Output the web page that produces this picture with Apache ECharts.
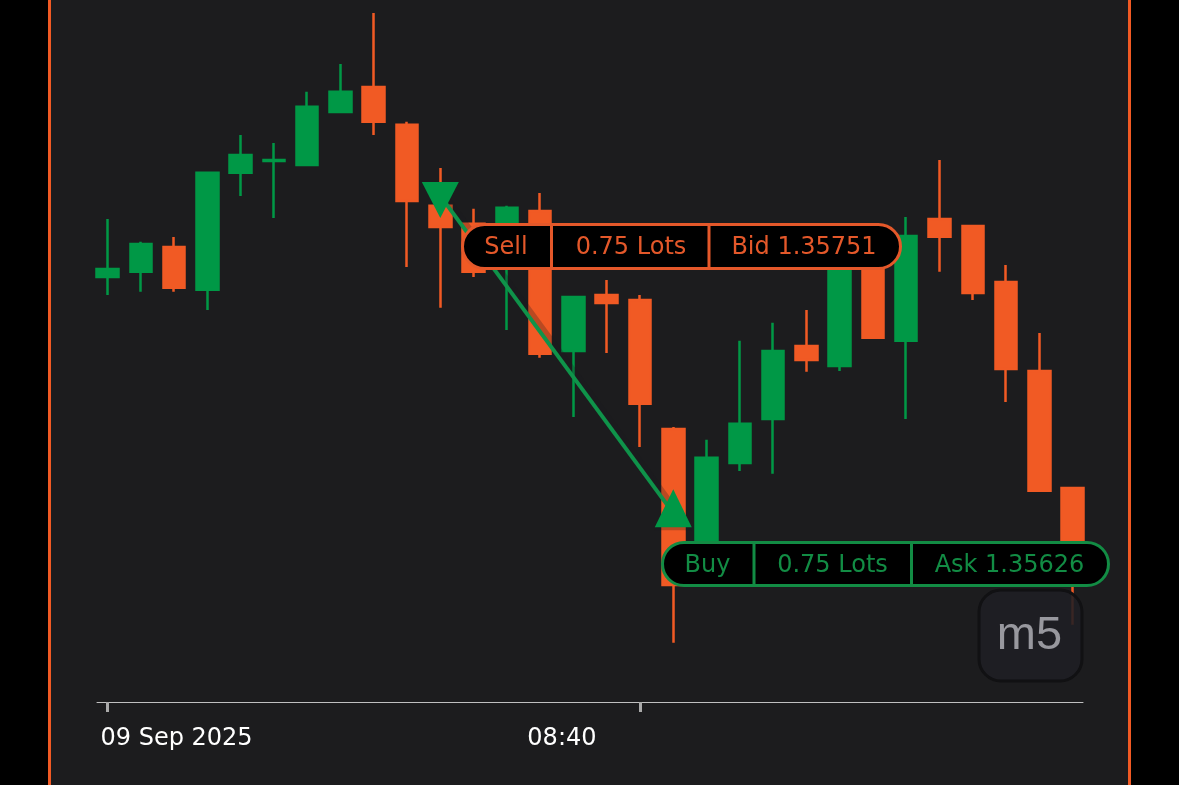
<!DOCTYPE html>
<html>
<head>
<meta charset="utf-8">
<title>m5 candles</title>
<script src="https://cdn.jsdelivr.net/npm/echarts@6/dist/echarts.min.js"></script>
<style>
    html, body { margin: 0; padding: 0; background: #000; }
    #panel {
        position: absolute; left: 48px; top: 0; width: 1077px; height: 785px;
        background: #1c1c1e; border-left: 3px solid #f15a24; border-right: 3px solid #f15a24;
    }
    #chart { position: absolute; left: 0; top: 0; width: 1179px; height: 785px; }
</style>
</head>
<body>
<div id="panel"></div>
<div id="chart"></div>
<script>
// 5 minute candles, 09 Sep 2025
const times = ['07:20','07:25','07:30','07:35','07:40','07:45','07:50','07:55','08:00','08:05',
    '08:10','08:15','08:20','08:25','08:30','08:35','08:40','08:45','08:50','08:55',
    '09:00','09:05','09:10','09:15','09:20','09:25','09:30','09:35','09:40','09:45'];
const opens = [1.357191,1.357211,1.357309,1.357140,1.357601,1.357648,1.357632,1.357841,1.357939,1.357790,
    1.357471,1.357400,1.357254,1.357451,1.356899,1.357120,1.357100,1.356592,1.356080,1.356458,
    1.356631,1.356919,1.356840,1.357262,1.356939,1.357419,1.357392,1.357171,1.356820,1.356359];
const closes = [1.357222,1.357321,1.357148,1.357601,1.357671,1.357652,1.357861,1.357920,1.357802,1.357490,
    1.357388,1.357211,1.357463,1.356888,1.357112,1.357088,1.356691,1.355977,1.356478,1.356612,
    1.356899,1.356864,1.357262,1.356951,1.357352,1.357349,1.357128,1.356828,1.356348,1.356021];
const lows = [1.357120,1.357132,1.357132,1.357061,1.357510,1.357423,1.357632,1.357841,1.357750,1.357230,
    1.357069,1.357191,1.356982,1.356872,1.356639,1.356891,1.356521,1.355749,1.356036,1.356426,
    1.356415,1.356817,1.356820,1.356951,1.356631,1.357211,1.357100,1.356698,1.356348,1.355820];
const highs = [1.357419,1.357329,1.357348,1.357601,1.357750,1.357719,1.357920,1.358030,1.358231,1.357802,
    1.357620,1.357459,1.357471,1.357522,1.357112,1.357179,1.357120,1.356600,1.356549,1.356939,
    1.357010,1.357061,1.357297,1.357297,1.357427,1.357652,1.357392,1.357238,1.356970,1.356359];

// the trade: sold on candle 10, bought back on candle 17
const sellIndex = 10, sellPrice = 1.35751;
const buyIndex = 17, buyPrice = 1.35626;

const tickIndexes = [0, 16];
const tickLabels = ['09 Sep 2025', '08:40'];
const tickLabelSlots = [2.075, 13.655]; // labels sit left of their ticks in the original

const sellTicket = ['Sell', '0.75 Lots', 'Bid 1.35751'];
const buyTicket = ['Buy', '0.75 Lots', 'Ask 1.35626'];
const timeframe = 'm5';

const GREEN = '#009846';
const ORANGE = '#f15a24';
const LINE_GREEN = '#0f934a';
const TICKET_GREEN = '#128c44';
const TICKET_ORANGE = '#e4582a';
const SHADE = 'rgba(28,28,30,0.26)'; // same as the panel, so it only shows over candles
const SHADE_LIFT = 0.00002;

// one pill with three cells, drawn above the candles
function ticket(left, right, top, bottom, dividers, centers, texts, color) {
    const els = [{
        type: 'rect', z: 100,
        shape: { x: left + 1.5, y: top + 1.5, width: right - left - 3, height: bottom - top - 3, r: 22 },
        style: { fill: '#000', stroke: color, lineWidth: 3 }
    }];
    dividers.forEach(x => els.push({
        type: 'line', z: 101,
        shape: { x1: x, y1: top + 1, x2: x, y2: bottom - 1 },
        style: { stroke: color, lineWidth: 3 }
    }));
    texts.forEach((t, i) => els.push({
        type: 'text', z: 102, x: centers[i], y: (top + bottom) / 2 + 1.5,
        style: {
            text: t, fill: color, align: 'center', verticalAlign: 'middle',
            font: '24px "DejaVu Sans"'
        }
    }));
    return els;
}

const chart = echarts.init(document.getElementById('chart'));

const option = {
    animation: false,
    backgroundColor: 'transparent',
    grid: { left: 97, top: 0, width: 986, height: 702 },
    xAxis: {
        type: 'value',
        min: -0.3155,
        max: 29.312,
        splitLine: { show: false },
        axisLine: { onZero: false, lineStyle: { color: '#c0c0c0', width: 1 } },
        axisTick: { customValues: tickIndexes, length: 10, lineStyle: { color: '#aaaaaa', width: 3 } },
        axisLabel: {
            customValues: tickLabelSlots,
            formatter: value => tickLabels[tickLabelSlots.indexOf(value)],
            color: '#ffffff',
            fontFamily: 'DejaVu Sans',
            fontSize: 24,
            margin: 25
        }
    },
    yAxis: {
        type: 'value',
        min: 1.355516,
        max: 1.358282,
        show: false
    },
    series: [
        {
            name: 'Price',
            type: 'candlestick',
            barWidth: 22,
            data: times.map((t, i) => [i, opens[i], closes[i], lows[i], highs[i]]),
            itemStyle: {
                color: GREEN,
                color0: ORANGE,
                borderColor: GREEN,
                borderColor0: ORANGE,
                borderWidth: 2.5
            }
        },
        {
            name: 'Trade shade',
            type: 'line',
            z: 3,
            symbol: 'none',
            data: [[sellIndex, sellPrice + SHADE_LIFT], [buyIndex, buyPrice + SHADE_LIFT]],
            lineStyle: { color: SHADE, width: 8 }
        },
        {
            name: 'Trade',
            type: 'line',
            z: 4,
            symbol: 'none',
            data: [[sellIndex, sellPrice], [buyIndex, buyPrice]],
            lineStyle: { color: LINE_GREEN, width: 4 }
        },
        {
            name: 'Sell',
            type: 'scatter',
            z: 5,
            symbol: 'triangle',
            symbolSize: [37, 36],
            symbolRotate: 180,
            symbolOffset: [0, 4],
            itemStyle: { color: GREEN, opacity: 1 },
            data: [[sellIndex, sellPrice]]
        },
        {
            name: 'Buy',
            type: 'scatter',
            z: 5,
            symbol: 'triangle',
            symbolSize: [37, 38],
            symbolOffset: [0, -5],
            itemStyle: { color: GREEN, opacity: 1, shadowColor: SHADE, shadowOffsetY: 3 },
            data: [[buyIndex, buyPrice]]
        }
    ],
    graphic: {
        elements: [
            ...ticket(461, 902, 223, 270, [551.5, 709], [506, 631, 804], sellTicket, TICKET_ORANGE),
            ...ticket(661, 1110, 541, 587, [754, 911.5], [707.5, 832.5, 1009.5], buyTicket, TICKET_GREEN),
            {
                type: 'rect', z: 100,
                shape: { x: 979, y: 590, width: 103, height: 91, r: 22 },
                style: { fill: 'rgba(31,31,36,0.88)', stroke: '#111113', lineWidth: 3 }
            },
            {
                type: 'text', z: 101, x: 1029.5, y: 636,
                style: {
                    text: timeframe, fill: '#98989e', align: 'center', verticalAlign: 'middle',
                    font: '47px "Liberation Sans"'
                }
            }
        ]
    }
};

chart.setOption(option);
</script>
</body>
</html>
